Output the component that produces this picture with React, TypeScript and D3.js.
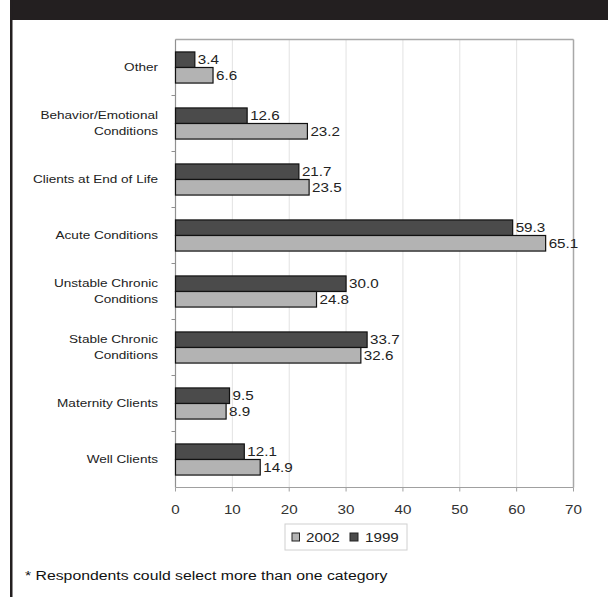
import React from "react";
import * as d3 from "d3";

const categories = [
  "Other",
  "Behavior/Emotional|Conditions",
  "Clients at End of Life",
  "Acute Conditions",
  "Unstable Chronic|Conditions",
  "Stable Chronic|Conditions",
  "Maternity Clients",
  "Well Clients",
];
const values1999 = [3.4, 12.6, 21.7, 59.3, 30.0, 33.7, 9.5, 12.1];
const values2002 = [6.6, 23.2, 23.5, 65.1, 24.8, 32.6, 8.9, 14.9];
const seriesNames = ["1999", "2002"];
const xTicks = [0, 10, 20, 30, 40, 50, 60, 70];
const footnote = "* Respondents could select more than one category";

const SX = 1.17;
const FONT = "'Liberation Sans', Arial, sans-serif";
const DARK = "#4b4b4b";
const LIGHT = "#b3b3b3";

function T({ x, y, size, anchor = "start", fill = "#222", children }: any) {
  return (
    <text
      transform={`translate(${x},${y}) scale(${SX},1)`}
      fontSize={size}
      fontFamily={FONT}
      textAnchor={anchor}
      dominantBaseline="central"
      fill={fill}
    >
      {children}
    </text>
  );
}

export default function App() {
  const W = 608, H = 597;
  const left = 175.5, right = 573.5, top = 39.5, bottom = 487.5;
  const x = d3.scaleLinear().domain([0, 70]).range([left, right]);
  const y = d3.scaleBand<string>().domain(categories).range([top, bottom]).paddingInner(0);
  const y1 = d3.scaleBand<string>().domain(seriesNames).range([0, y.bandwidth()]).paddingInner(0).paddingOuter(0.8);
  const series = [
    { name: "1999", vals: values1999, fill: DARK },
    { name: "2002", vals: values2002, fill: LIGHT },
  ];
  const boundaries = categories.slice(1).map((c) => y(c)!);

  return (
    <svg width={W} height={H} style={{ position: "absolute", left: 0, top: 0, background: "#fff" }}>
      <rect x={10} y={0} width={W - 10} height={20} fill="#231f20" />
      <rect x={10} y={0} width={2.5} height={H} fill="#231f20" />

      {/* gridlines */}
      {xTicks.slice(1, -1).map((t) => (
        <line key={t} x1={x(t)} x2={x(t)} y1={top} y2={bottom} stroke="#e2e2e2" strokeWidth={1} />
      ))}
      {/* plot border */}
      <line x1={left} x2={right} y1={top} y2={top} stroke="#a8a8a8" strokeWidth={1.5} />
      <line x1={right} x2={right} y1={top} y2={bottom} stroke="#a8a8a8" strokeWidth={1.5} />
      <line x1={left} x2={right} y1={bottom} y2={bottom} stroke="#a0a0a0" strokeWidth={1.2} />
      <line x1={left} x2={left} y1={top} y2={bottom} stroke="#909090" strokeWidth={1.2} />
      {boundaries.map((b, i) => (
        <line key={i} x1={left - 4} x2={left} y1={b} y2={b} stroke="#909090" />
      ))}
      {xTicks.map((t) => (
        <line key={t} x1={x(t)} x2={x(t)} y1={bottom} y2={bottom + 4} stroke="#a0a0a0" />
      ))}

      {/* bars */}
      {series.map((s) =>
        categories.map((c, i) => {
          const by = y(c)! + y1(s.name)!;
          const bh = y1.bandwidth();
          return (
            <g key={s.name + c}>
              <rect x={x(0)} y={by} width={x(s.vals[i]) - x(0)} height={bh} fill={s.fill} stroke="#111" strokeWidth={1.2} />
              <T x={x(s.vals[i]) + 3} y={by + bh / 2} size={13} fill="#222">
                {s.vals[i].toFixed(1)}
              </T>
            </g>
          );
        })
      )}

      {/* category labels */}
      {categories.map((c) => {
        const lines = c.split("|");
        const cy = y(c)! + y.bandwidth() / 2;
        return lines.map((ln, j) => (
          <T key={c + j} x={158} y={cy + (j - (lines.length - 1) / 2) * 16} size={11.6} anchor="end" fill="#222">
            {ln}
          </T>
        ));
      })}

      {/* x tick labels */}
      {xTicks.map((t) => (
        <T key={t} x={x(t)} y={509} size={13} anchor="middle" fill="#333">
          {t}
        </T>
      ))}

      {/* legend */}
      <rect x={285} y={524} width={122} height={26} fill="#fff" stroke="#d0d0d0" />
      <rect x={292} y={533} width={7.5} height={8} fill={LIGHT} stroke="#222" />
      <T x={306} y={537.5} size={13} fill="#222">{seriesNames[1]}</T>
      <rect x={350} y={533} width={8} height={8} fill={DARK} stroke="#222" />
      <T x={365} y={537.5} size={13} fill="#222">{seriesNames[0]}</T>

      {/* footnote */}
      <T x={25} y={575} size={13.5} fill="#111">{footnote}</T>
    </svg>
  );
}
